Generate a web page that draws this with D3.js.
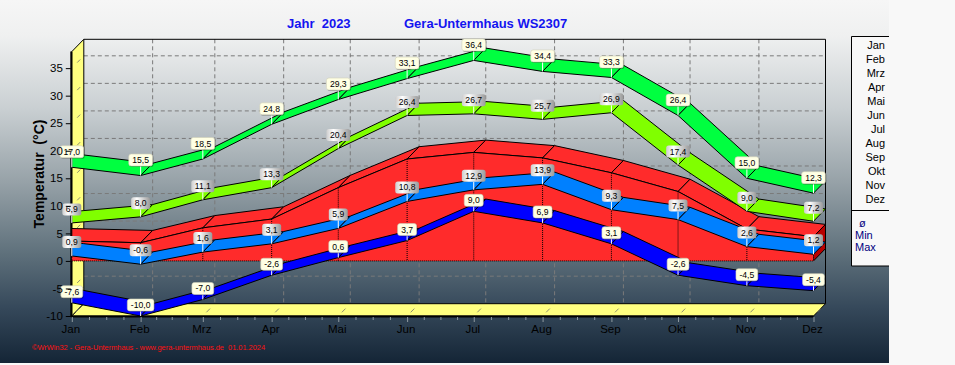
<!DOCTYPE html>
<html><head><meta charset="utf-8">
<script src="https://cdn.jsdelivr.net/npm/d3@7"></script>
<style>html,body{margin:0;padding:0;background:#f8f8f8;overflow:hidden}svg{display:block}</style>
</head><body>
<svg id="c" width="955" height="365"></svg>
<script>
// ---------- data ----------
const months = ["Jan","Feb","Mrz","Apr","Mai","Jun","Jul","Aug","Sep","Okt","Nov","Dez"];
const maxAbs  = [17.0, 15.5, 18.5, 24.8, 29.3, 33.1, 36.4, 34.4, 33.3, 26.4, 15.0, 12.3];
const meanMax = [6.9, 8.0, 11.1, 13.3, 20.4, 26.4, 26.7, 25.7, 26.9, 17.4, 9.0, 7.2];
const meanT   = [3.6, 3.3, 6.0, 7.6, 13.3, 18.5, 19.7, 18.7, 16.0, 12.6, 5.8, 4.4];
const meanMin = [0.9, -0.6, 1.6, 3.1, 5.9, 10.8, 12.9, 13.9, 9.3, 7.5, 2.6, 1.2];
const minAbs  = [-7.6, -10.0, -7.0, -2.6, 0.6, 3.7, 9.0, 6.9, 3.1, -2.6, -4.5, -5.4];
const yTicks = [-10, -5, 0, 5, 10, 15, 20, 25, 30, 35];
const legendSeries = ["ø", "Min", "Max"];
const titleLeft = "Jahr  2023";
const titleRight = "Gera-Untermhaus WS2307";
const yTitle = "Temperatur  (°C)";
const footer = "©WrWin32 - Gera-Untermhaus - www.gera-untermhaus.de  01.01.2024";

// ---------- setup ----------
const svg = d3.select("#c");
const FONT = "'Liberation Sans', Arial, sans-serif";
const DX = 12, DY = -12.3;
const dates = months.map((m, i) => new Date(Date.UTC(2023, i, 1)));
const x = d3.scaleUtc().domain([dates[0], dates[11]]).range([71.8, 813.5]);
const y = d3.scaleLinear().domain([-10, 38]).range([316, 51.6]);
const fmt = v => v.toFixed(1).replace(".", ",");

const defs = svg.append("defs");
const bg = defs.append("linearGradient").attr("id", "bg").attr("x1", 0).attr("y1", 0).attr("x2", 0).attr("y2", 1);
[[0, "#f6f6f6"], [0.1, "#eff0f0"], [0.3, "#c9cfd2"], [0.5, "#97a2a8"], [0.7, "#5e707b"], [0.85, "#35485a"], [1, "#142536"]]
  .forEach(([o, c]) => bg.append("stop").attr("offset", o).attr("stop-color", c));
const lg = defs.append("linearGradient").attr("id", "lg").attr("x1", 0).attr("y1", 0).attr("x2", 1).attr("y2", 0);
[[0, "#cdcdcd"], [0.3, "#ffffff"], [1, "#9a9a9a"]].forEach(([o, c]) => lg.append("stop").attr("offset", o).attr("stop-color", c));

svg.append("rect").attr("width", 955).attr("height", 365).attr("fill", "#f8f8f8");
svg.append("rect").attr("width", 889).attr("height", 363).attr("fill", "url(#bg)");

const x0 = x.range()[0], x1 = x.range()[1];
const yTop = y(38), yBot = y(-10);

// ---------- back wall grid ----------
const grid = svg.append("g").attr("stroke", "#7a7a7a").attr("stroke-dasharray", "4,3").attr("stroke-width", 1);
yTicks.filter(v => v > -10).forEach(v => {
  grid.append("line").attr("x1", x0 + DX).attr("x2", x1 + DX).attr("y1", y(v) + DY).attr("y2", y(v) + DY);
});
dates.slice(1, 11).forEach(d => {
  grid.append("line").attr("x1", x(d) + DX).attr("x2", x(d) + DX).attr("y1", yTop + DY).attr("y2", yBot + DY);
});
// back wall border
svg.append("path").attr("d", `M${x0 + DX},${yTop + DY}H${x1 + DX}V${yBot + DY}`).attr("fill", "none").attr("stroke", "#000");

// ---------- left wall ----------
svg.append("path").attr("d", `M${x0},${yTop}L${x0 + DX},${yTop + DY}L${x0 + DX},${yBot + DY}L${x0},${yBot}Z`)
  .attr("fill", "#ffff80").attr("stroke", "#000").attr("stroke-width", 1);
svg.append("line").attr("x1", x0 - 0.5).attr("x2", x0 - 0.5).attr("y1", yTop).attr("y2", yBot + 1).attr("stroke", "#000").attr("stroke-width", 2);
yTicks.forEach(v => {
  svg.append("line").attr("x1", x0 + DX * 0.45).attr("y1", y(v) + DY * 0.45).attr("x2", x0 + DX * 0.7).attr("y2", y(v) + DY * 0.7)
    .attr("stroke", "#909070").attr("stroke-width", 1);
});
// ---------- floor ----------
svg.append("path").attr("d", `M${x0},${yBot}L${x0 + DX},${yBot + DY}L${x1 + DX},${yBot + DY}L${x1},${yBot}Z`)
  .attr("fill", "#ffff80").attr("stroke", "#000").attr("stroke-width", 1);
svg.append("line").attr("x1", x0 - 1).attr("x2", x1).attr("y1", yBot + 0.5).attr("y2", yBot + 0.5).attr("stroke", "#000").attr("stroke-width", 2);
dates.forEach(d => {
  svg.append("line").attr("x1", x(d) + DX * 0.3).attr("y1", yBot + DY * 0.3).attr("x2", x(d) + DX * 0.6).attr("y2", yBot + DY * 0.6)
    .attr("stroke", "#909070").attr("stroke-width", 1);
});

// ---------- series ----------
const series = svg.append("g");
function segPolys(vals) {
  const pts = vals.map((v, i) => [x(dates[i]), y(v)]);
  const polys = [];
  for (let i = 0; i < pts.length - 1; i++) {
    const a = pts[i], b = pts[i + 1];
    let poly = [a, b, [b[0] + DX, b[1] + DY], [a[0] + DX, a[1] + DY]];
    if (i === 0) {
      const s = (b[1] - a[1]) / (b[0] - a[0]);
      poly.push([a[0], a[1] + DY - s * DX]);
    }
    polys.push(poly);
  }
  return { pts, polys };
}
function ribbon(vals, color) {
  const { polys } = segPolys(vals);
  const g = series.append("g");
  polys.forEach(p => g.append("path").attr("d", d3.line()(p) + "Z").attr("fill", color).attr("stroke", "#000").attr("stroke-width", 1));
}
function area3d(vals, color, side) {
  const { pts, polys } = segPolys(vals);
  const g = series.append("g");
  const base = y(0);
  polys.forEach(p => g.append("path").attr("d", d3.line()(p) + "Z").attr("fill", color).attr("stroke", "#000").attr("stroke-width", 1));
  const L = pts[pts.length - 1];
  g.append("path").attr("d", d3.line()([L, [L[0] + DX, L[1] + DY], [L[0] + DX, base + DY], [L[0], base]]) + "Z")
    .attr("fill", side).attr("stroke", "#000").attr("stroke-width", 1);
  const front = pts.concat([[L[0], base], [pts[0][0], base]]);
  g.append("path").attr("d", d3.line()(front) + "Z").attr("fill", color);
  g.append("path").attr("d", d3.line()(pts)).attr("fill", "none").attr("stroke", "#000");
  const dot = g.append("g").attr("stroke", "#000").attr("stroke-dasharray", "1,1");
  pts.forEach(p => dot.append("line").attr("x1", p[0]).attr("x2", p[0]).attr("y1", p[1]).attr("y2", base));
  dot.append("line").attr("x1", pts[0][0]).attr("x2", L[0]).attr("y1", base).attr("y2", base);
}
area3d(meanT, "#ff2b2b", "#b80000");
ribbon(meanMin, "#0080ff");
ribbon(minAbs, "#0000ff");
ribbon(meanMax, "#80ff00");
ribbon(maxAbs, "#00ff40");

// ---------- marks ----------
const marks = svg.append("g").attr("font-family", FONT).attr("font-size", "8.6px");
function labels(vals, fill, arrow, shadow) {
  vals.forEach((v, i) => {
    const px = x(dates[i]), py = y(v);
    const g = marks.append("g");
    const by = py - arrow;
    g.append("line").attr("x1", px).attr("x2", px).attr("y1", by).attr("y2", py).attr("stroke", "#fff").attr("stroke-width", 1);
    const sh = g.append("rect");
    const r = g.append("rect");
    const t = g.append("text").text(fmt(v)).attr("x", px).attr("y", by - 3).attr("text-anchor", "middle").attr("fill", "#000");
    const w = t.node().getComputedTextLength() + 7, h = 12;
    if (shadow) sh.attr("x", px - w / 2 + 1).attr("y", by - h + 1).attr("width", w).attr("height", h).attr("rx", 2).attr("fill", "#000").attr("opacity", 0.3);
    r.attr("x", px - w / 2).attr("y", by - h).attr("width", w).attr("height", h).attr("rx", 2.5).attr("fill", fill)
      .attr("stroke", shadow ? "#d0d0b8" : "none").attr("stroke-width", 0.6);
  });
}
labels(meanMin, "url(#lg)", 8, false);
labels(minAbs, "#ffffe4", 5, true);
labels(meanMax, "url(#lg)", 7.5, false);
labels(maxAbs, "#ffffe4", 9.5, true);

// ---------- axes ----------
const ax = svg.append("g").attr("transform", `translate(${x0 - 1},0)`)
  .call(d3.axisLeft(y).tickValues(yTicks).tickSize(5).tickPadding(3).tickFormat(d => d));
ax.select(".domain").remove();
ax.selectAll("text").attr("font-family", FONT).attr("font-size", "11.5px").attr("fill", "#000");
ax.selectAll("line").attr("stroke", "#000");

const minorDates = [];
dates.slice(0, 11).forEach((d, i) => {
  const a = +d, b = +dates[i + 1];
  for (let k = 1; k < 4; k++) minorDates.push(new Date(a + (b - a) * k / 4));
});
const axm = svg.append("g").attr("transform", `translate(0,${yBot + 1})`)
  .call(d3.axisBottom(x).tickValues(minorDates).tickSize(3).tickFormat(""));
axm.select(".domain").remove();
axm.selectAll("line").attr("stroke", "#8f9aa0");
const axb = svg.append("g").attr("transform", `translate(0,${yBot + 1})`)
  .call(d3.axisBottom(x).tickValues(dates).tickSize(5).tickPadding(3).tickFormat((d, i) => months[i]));
axb.select(".domain").remove();
axb.selectAll("line").attr("stroke", "#8f9aa0");
axb.selectAll("text").attr("font-family", FONT).attr("font-size", "11.5px").attr("fill", "#000").attr("dx", "-1.5");

// y title
svg.append("text").attr("transform", "translate(43.5,174) rotate(-90)").attr("text-anchor", "middle")
  .attr("font-family", FONT).attr("font-weight", "bold").attr("font-size", "14px").attr("fill", "#000")
  .style("white-space", "pre").text(yTitle);

// title
svg.append("text").attr("x", 287).attr("y", 28).attr("font-family", FONT).attr("font-weight", "bold").attr("font-size", "13px")
  .attr("fill", "#1414f0").style("white-space", "pre").text(titleLeft);
svg.append("text").attr("x", 404).attr("y", 28).attr("font-family", FONT).attr("font-weight", "bold").attr("font-size", "13px")
  .attr("fill", "#1414f0").style("white-space", "pre").text(titleRight);

// footer
svg.append("text").attr("x", 32).attr("y", 349.5).attr("font-family", FONT).attr("font-size", "7.5px").attr("fill", "#ff1010")
  .attr("textLength", 233).attr("lengthAdjust", "spacingAndGlyphs").style("white-space", "pre").text(footer);

// ---------- legend ----------
const leg = svg.append("g").attr("font-family", FONT).attr("font-size", "11px");
leg.append("rect").attr("x", 851.5).attr("y", 36.5).attr("width", 37.5).attr("height", 229.5).attr("fill", "#f8f8f8");
leg.append("path").attr("d", "M889,36.5H851.5V266H889").attr("fill", "none").attr("stroke", "#000");
leg.append("line").attr("x1", 851.5).attr("x2", 889).attr("y1", 210.5).attr("y2", 210.5).attr("stroke", "#000");
months.forEach((m, i) => {
  leg.append("text").attr("x", 885).attr("y", 49 + i * 14).attr("text-anchor", "end").attr("fill", "#000").text(m);
});
legendSeries.forEach((s, i) => {
  leg.append("text").attr("x", i === 0 ? 859 : 855).attr("y", 227 + i * 12).attr("fill", "#000080").text(s);
});
</script>
</body></html>
